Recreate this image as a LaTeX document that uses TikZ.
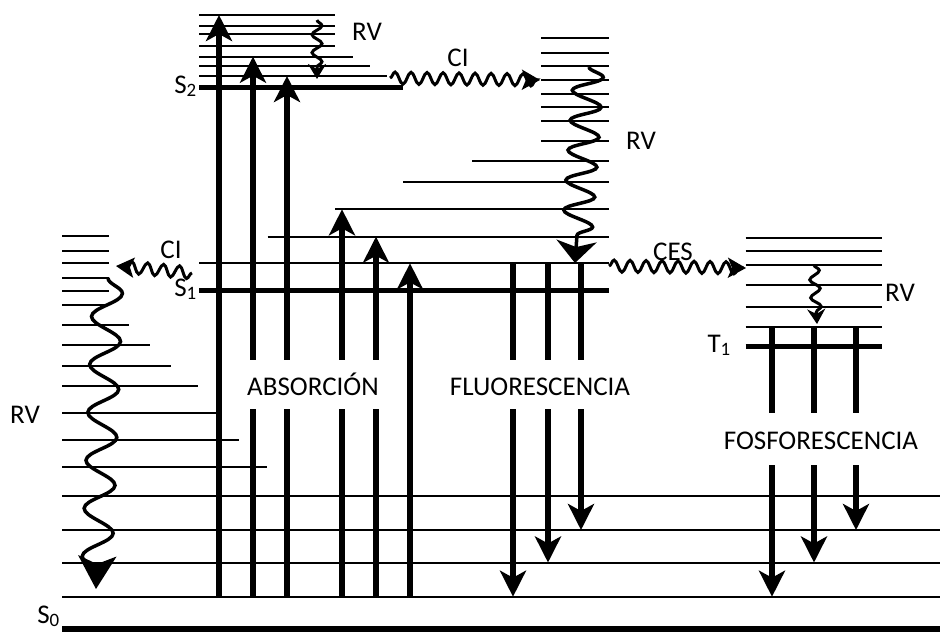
\documentclass[tikz,border=0pt]{standalone}
\usepackage{fontspec}
\setmainfont{Carlito}
\usetikzlibrary{arrows.meta,decorations.pathmorphing}

\begin{document}
\begin{tikzpicture}[x=1pt, y=-1pt,
    every node/.style={font=\fontsize{27}{32}\selectfont, inner sep=0pt},
    level/.style={line width=2pt},
    state/.style={line width=5pt},
    ground/.style={line width=6pt},
    trans/.style={line width=6pt, -{Stealth[length=26pt, width=26pt, inset=7pt]}},
    label/.style={fill=white, anchor=base, inner xsep=3pt},
    wavesmall/.style={line width=3pt, decorate,
        decoration={snake, amplitude=5pt, segment length=18pt, post length=6pt},
        -{Stealth[length=15pt, width=18pt, inset=5pt]}},
    wavecross/.style={line width=3pt, decorate,
        decoration={snake, amplitude=6pt, segment length=16pt, post length=4pt},
        -{Stealth[length=18pt, width=20pt, inset=4pt]}},
    wavebig/.style={line width=3.5pt, decorate,
        decoration={snake, amplitude=15pt, segment length=30pt, post length=14pt},
        -{Stealth[length=22pt, width=40pt, inset=6pt]}},
]
\useasboundingbox (0,0) rectangle (940,633);

% S0 manifold (left block and full-width levels)
\foreach \y/\xe in {236/109, 250.7/109, 263.3/109, 277.7/109, 290.7/109, 305/109,
                    325/129.3, 345/150, 366/170.7, 385.7/198.3, 412.7/216.7,
                    440/239, 467.3/266.7, 496/940, 530/940, 562.5/940, 596.7/940}
  \draw[level] (62,\y) -- (\xe,\y);
\draw[ground] (62,629) -- (940,629);
\node[anchor=base east] (s0) at (60,623) {S\textsubscript{0}};

% S2 manifold
\foreach \y/\xe in {15/335, 25.7/335, 34.3/335, 45.7/335, 56.7/352.7, 65.7/370, 76/386.7}
  \draw[level] (199,\y) -- (\xe,\y);
\draw[state] (199,87.3) -- (403,87.3);
\node[anchor=base east] (s2) at (197,93) {S\textsubscript{2}};

% S1 manifold
\foreach \y/\xs in {38.3/541, 52.7/541, 65.7/541, 80/541, 94.3/541, 106.7/541,
                    121/541, 141/541, 161/472, 182.3/403, 209.3/335, 236.7/267.7, 263.3/199}
  \draw[level] (\xs,\y) -- (609,\y);
\draw[state] (199,290.7) -- (609,290.7);
\node[anchor=base east] (s1) at (197,296) {S\textsubscript{1}};

% T1 manifold
\foreach \y in {237.7, 250.7, 265, 285, 306.7, 326.7}
  \draw[level] (745.7,\y) -- (881.7,\y);
\draw[state] (745.7,346) -- (881.7,346);
\node[anchor=base east] (t1) at (731,352) {T\textsubscript{1}};

% Absorption
\foreach \x/\y in {219/15, 253/56.7, 287/76, 342/209.3, 376/236.7, 410/263.3}
  \draw[trans] (\x,596.7) -- (\x,\y);

% Fluorescence
\foreach \x/\y in {513/596.7, 548/562.5, 581/530}
  \draw[trans] (\x,263.3) -- (\x,\y);

% Phosphorescence
\foreach \x/\y in {772/596.7, 814/562.5, 856/530}
  \draw[trans] (\x,326.7) -- (\x,\y);

% Process labels (white boxes break the arrows)
\node[label, text height=35pt, text depth=14pt] (abs) at (313,395) {ABSORCIÓN};
\node[label, text height=35pt, text depth=14pt] (flu) at (540,395) {FLUORESCENCIA};
\node[label, text height=36pt, text depth=16pt] (fos) at (821,449) {FOSFORESCENCIA};

% Vibrational relaxation and crossings
\draw[wavesmall] (317,20) -- (317,79);
\node (rv2) at (367,32) {RV};

\draw[wavecross] (390,78) -- (540,80);
\node (ci2) at (458,58) {CI};

\draw[wavebig] (589,67) -- (575,263);
\node (rv1) at (641,141) {RV};

\draw[wavecross] (609,266) -- (746,268);
\node (ces) at (673,252) {CES};

\draw[wavesmall] (814,265) -- (817,324);
\node (rvt) at (900,293) {RV};

\draw[wavecross] (192,273) -- (116,266);
\node (ci1) at (171,250) {CI};

\draw[wavebig, decoration={segment length=48pt}, -{Stealth[length=33pt, width=38pt, inset=8pt]}]
  (108,278) -- (96,589);
\node (rv0) at (25,415) {RV};

\end{tikzpicture}
\end{document}
